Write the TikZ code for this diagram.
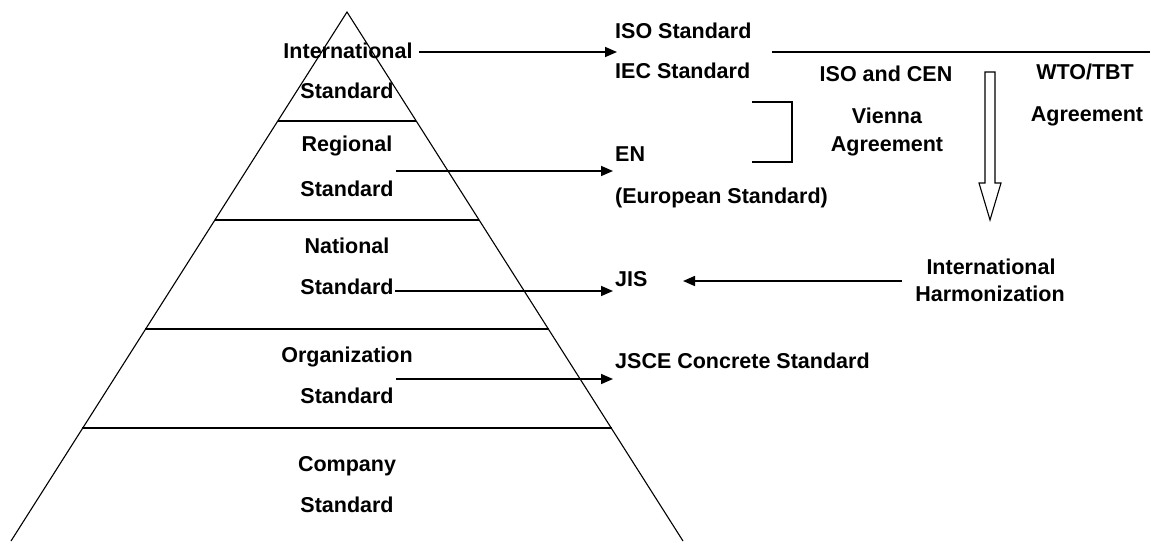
\documentclass[tikz,border=0pt]{standalone}
\usepackage{fontspec}
\setmainfont{Liberation Sans}
\usetikzlibrary{arrows.meta}
\begin{document}
\begin{tikzpicture}[x=1pt,y=-1pt,
  lbl/.style={font=\fontsize{21.5}{25}\selectfont\bfseries, inner sep=1pt, text height=0.72em, text depth=0em, yshift=-3pt},
  lft/.style={lbl, anchor=west},
  pyr/.style={line width=1.1pt},
  arr/.style={line width=1.6pt, -{Triangle[length=12pt,width=10pt]}},
  thin/.style={line width=1.3pt}]
\useasboundingbox (0,0) rectangle (1150,541);
% pyramid
\coordinate (apex) at (347,12);
\coordinate (bl) at (11,541);
\coordinate (br) at (683,541);
\draw[pyr] (bl) -- (apex) -- (br);
\draw[pyr] (277.7,121) -- (416.3,121);
\draw[pyr] (214.7,220) -- (479.3,220);
\draw[pyr] (145.4,329) -- (548.6,329);
\draw[pyr] (82.4,428) -- (611.6,428);
% pyramid labels
\node[lbl] (intl) at (348,52) {International};
\node[lbl] (intlstd) at (347,92) {Standard};
\node[lbl] (reg) at (347,145) {Regional};
\node[lbl] (regstd) at (347,190) {Standard};
\node[lbl] (nat) at (347,247) {National};
\node[lbl] (natstd) at (347,288) {Standard};
\node[lbl] (org) at (347,356) {Organization};
\node[lbl] (orgstd) at (347,397) {Standard};
\node[lbl] (comp) at (347,465) {Company};
\node[lbl] (compstd) at (347,506) {Standard};
% right labels
\node[lft] (iso) at (614,32) {ISO Standard};
\node[lft] (iec) at (614,72) {IEC Standard};
\node[lft] (en) at (614,155) {EN};
\node[lft] (eu) at (614,197) {(European Standard)};
\node[lft] (jis) at (614,280) {JIS};
\node[lft] (jsce) at (614,362) {JSCE Concrete Standard};
\node[lbl] (isocen) at (886,75) {ISO and CEN};
\node[lbl] (vienna) at (887,117) {Vienna};
\node[lbl] (vagr) at (887,145) {Agreement};
\node[lbl] (wto) at (1085,73) {WTO/TBT};
\node[lbl] (wagr) at (1087,115) {Agreement};
\node[lbl] (ih1) at (991,268) {International};
\node[lbl] (ih2) at (990,295) {Harmonization};
% arrows
\coordinate (isoin) at (617,52);
\draw[arr] ([xshift=5pt]intl.east |- isoin) -- (isoin);
\coordinate (regout) at (396,171);
\coordinate (enin) at (613,171);
\draw[arr] (regout) -- (enin);
\coordinate (jisin) at (613,290);
\draw[arr] (natstd.east) -- (natstd.east -| jisin);
\coordinate (orgout) at (396,379);
\coordinate (jscein) at (613,379);
\draw[arr] (orgout) -- (jscein);
\coordinate (ihout) at (902,281);
\coordinate (jisright) at (683,281);
\draw[arr] (ihout) -- (jisright);
% top line
\coordinate (tl1) at (772,52);
\coordinate (tl2) at (1150,52);
\draw[thin] (tl1) -- (tl2);
% bracket
\draw[thin] (752,102) -- (792,102) -- (792,162) -- (752,162);
% hollow arrow
\draw[line width=1.1pt, fill=white] (985,72) -- (995,72) -- (995,183) -- (1001,183) -- (990,220) -- (979,183) -- (985,183) -- cycle;
\end{tikzpicture}
\end{document}
